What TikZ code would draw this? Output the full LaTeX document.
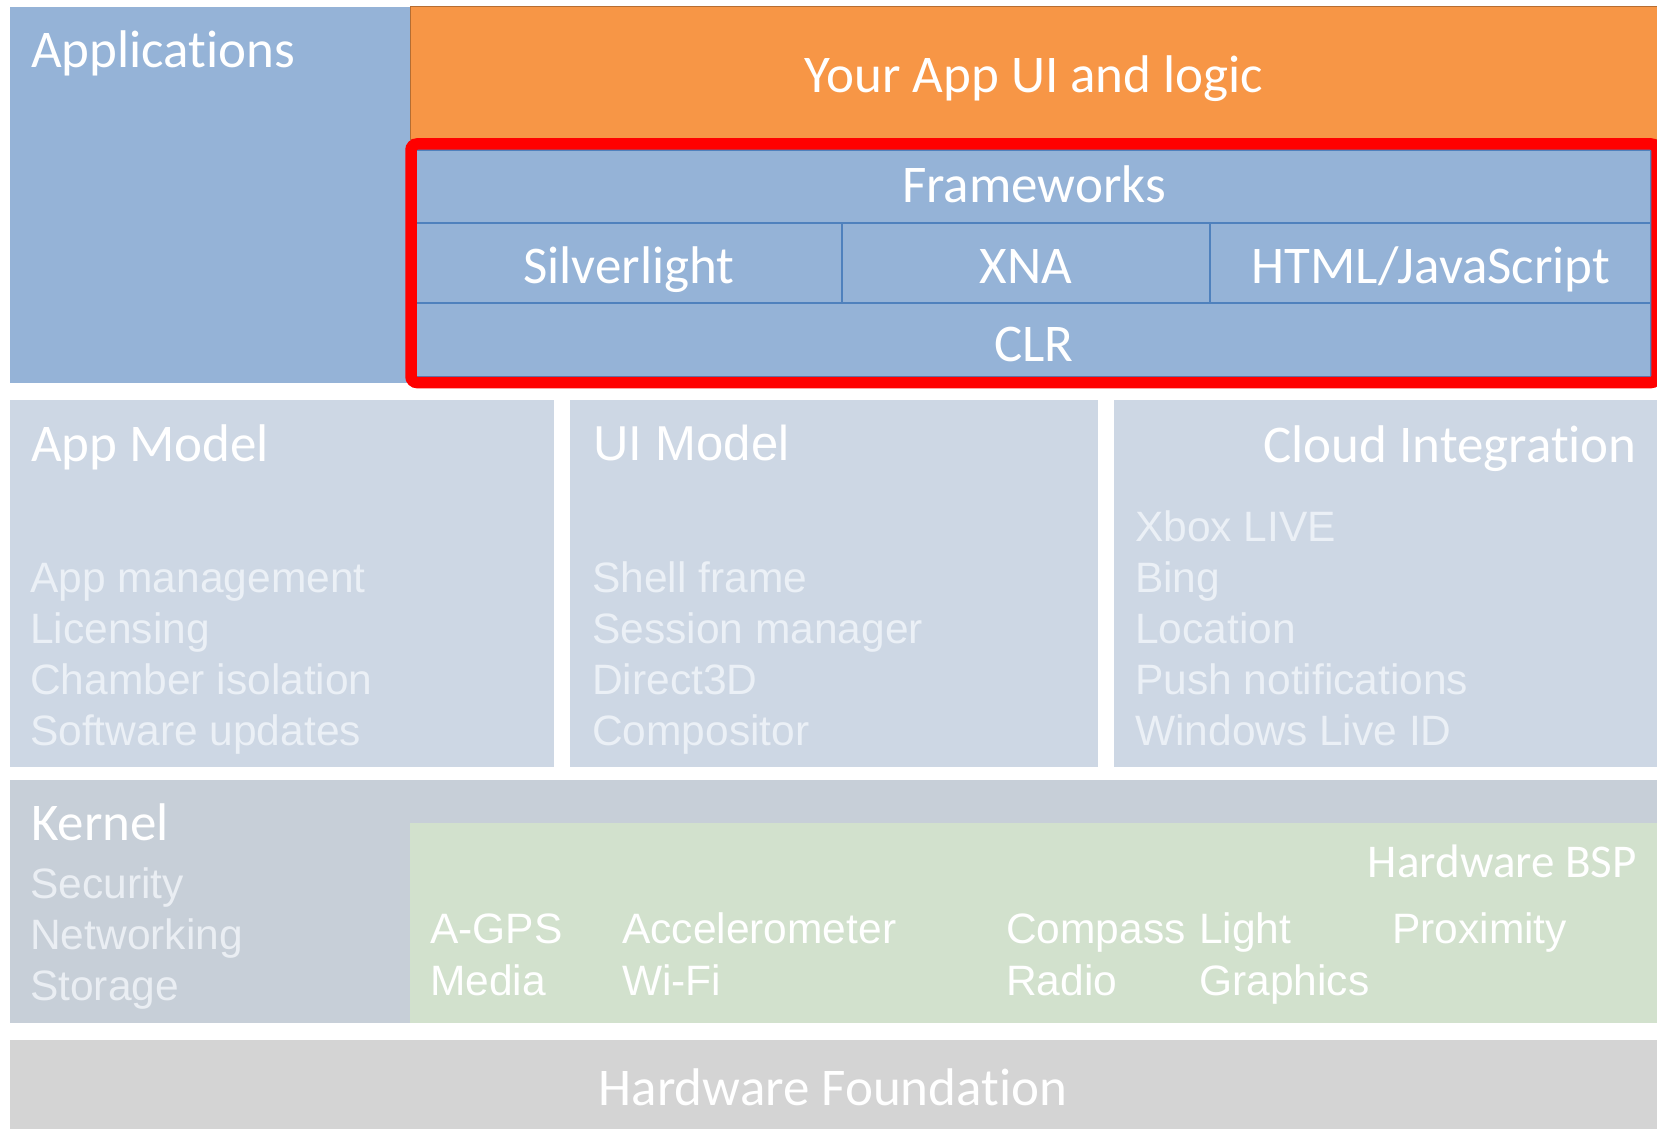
\documentclass[tikz,border=0pt]{standalone}
\usepackage{fontspec}
\setmainfont{Carlito}[RawFeature=-liga]
\newfontfamily\arialf{Liberation Sans}[RawFeature=-liga]
\definecolor{appblue}{HTML}{95B3D7}
\definecolor{lineblue}{HTML}{4F81BD}
\definecolor{orangef}{HTML}{F79646}
\definecolor{orangeb}{HTML}{B66D31}
\definecolor{midbox}{HTML}{CDD7E4}
\definecolor{midtext}{HTML}{EBF0F6}
\definecolor{kernbox}{HTML}{C7CFD8}
\definecolor{kerntext}{HTML}{EAEEF3}
\definecolor{greenbox}{HTML}{D2E1CD}
\definecolor{hwbox}{HTML}{D4D4D4}
\definecolor{redf}{HTML}{FF0000}
\tikzset{
  head/.style={inner sep=0pt, text=white, font=\fontsize{53}{60}\selectfont},
  arialhead/.style={inner sep=0pt, text=white, font=\arialf\fontsize{49}{56}\selectfont},
  item/.style={inner sep=0pt, font=\arialf\fontsize{42.5}{50}\selectfont},
  cell/.style={fill=appblue, draw=lineblue, line width=2pt},
}
\begin{document}
\begin{tikzpicture}[x=1pt,y=-1pt]
\useasboundingbox (0,0) rectangle (1657,1129);
\clip (0,0) rectangle (1657,1129);
\fill[white] (0,0) rectangle (1657,1129);
% Applications layer
\fill[appblue] (9.5,7.5) rectangle (412,383);
\filldraw[fill=orangef, draw=orangeb, line width=1pt] (410,7) rectangle (1700,140);
% Frameworks cells
\filldraw[cell] (416,150) rectangle (1651,223);
\filldraw[cell] (416,223) rectangle (842,303);
\filldraw[cell] (842,223) rectangle (1210,303);
\filldraw[cell] (1210,223) rectangle (1651,303);
\filldraw[cell] (416,303) rectangle (1651,377);
\draw[redf, line width=11.5pt, rounded corners=6pt] (411,144) rectangle (1657,382.5);
% middle row
\fill[midbox] (9.5,400) rectangle (554,767);
\fill[midbox] (570,400) rectangle (1098,767);
\fill[midbox] (1114,400) rectangle (1657,767);
% kernel row
\fill[kernbox] (9.5,780) rectangle (1657,1023);
\fill[greenbox] (410,823) rectangle (1657,1023);
% hardware foundation
\fill[hwbox] (9.5,1040) rectangle (1657,1129);

% texts
\node[head, anchor=base west] (apps) at (31,67.5) {Applications};
\node[head, anchor=base] (yourapp) at (1034,93) {Your App UI and logic};
\node[head, anchor=base] (fw) at (1034,202) {Frameworks};
\node[head, anchor=base] (sl) at (629,283) {Silverlight};
\node[head, anchor=base] (xna) at (1026,283) {XNA};
\node[head, anchor=base] (html) at (1431,283) {HTML/JavaScript};
\node[head, anchor=base] (clr) at (1034,361.5) {CLR};

\node[head, anchor=base west] (appmodel) at (31,461) {App Model};
\node[arialhead, anchor=base west] (uimodel) at (593,460) {UI Model};
\node[head, anchor=base east] (cloud) at (1637,462) {Cloud Integration};

\node[item, text=midtext, anchor=base west] (am1) at (30,592) {App management};
\node[item, text=midtext, anchor=base west] (am2) at (30,643) {Licensing};
\node[item, text=midtext, anchor=base west] (am3) at (30,694) {Chamber isolation};
\node[item, text=midtext, anchor=base west] (am4) at (30,745) {Software updates};

\node[item, text=midtext, anchor=base west] (ui1) at (592,592) {Shell frame};
\node[item, text=midtext, anchor=base west] (ui2) at (592,643) {Session manager};
\node[item, text=midtext, anchor=base west] (ui3) at (592,694) {Direct3D};
\node[item, text=midtext, anchor=base west] (ui4) at (592,745) {Compositor};

\node[item, text=midtext, anchor=base west] (cl1) at (1135,541) {Xbox LIVE};
\node[item, text=midtext, anchor=base west] (cl2) at (1135,592) {Bing};
\node[item, text=midtext, anchor=base west] (cl3) at (1135,643) {Location};
\node[item, text=midtext, anchor=base west] (cl4) at (1135,694) {Push notifications};
\node[item, text=midtext, anchor=base west] (cl5) at (1135,745) {Windows Live ID};

\node[head, anchor=base west] (kernel) at (31,840) {Kernel};
\node[item, text=kerntext, anchor=base west] (k1) at (30,898) {Security};
\node[item, text=kerntext, anchor=base west] (k2) at (30,949) {Networking};
\node[item, text=kerntext, anchor=base west] (k3) at (30,1000) {Storage};

\node[inner sep=0pt, text=white, font=\fontsize{47}{54}\selectfont, anchor=base east] (bsp) at (1637,877) {Hardware BSP};
\node[item, text=white, anchor=base west] (s1) at (430,943) {A-GPS};
\node[item, text=white, anchor=base west] (s2) at (430,995) {Media};
\node[item, text=white, anchor=base west] (s3) at (622,943) {Accelerometer};
\node[item, text=white, anchor=base west] (s4) at (622,995) {Wi-Fi};
\node[item, text=white, anchor=base west] (s5) at (1006,943) {Compass};
\node[item, text=white, anchor=base west] (s6) at (1006,995) {Radio};
\node[item, text=white, anchor=base west] (s7) at (1199,943) {Light};
\node[item, text=white, anchor=base west] (s8) at (1199,995) {Graphics};
\node[item, text=white, anchor=base west] (s9) at (1392,943) {Proximity};

\node[head, anchor=base] (hwf) at (833,1105) {Hardware Foundation};
\end{tikzpicture}
\end{document}
